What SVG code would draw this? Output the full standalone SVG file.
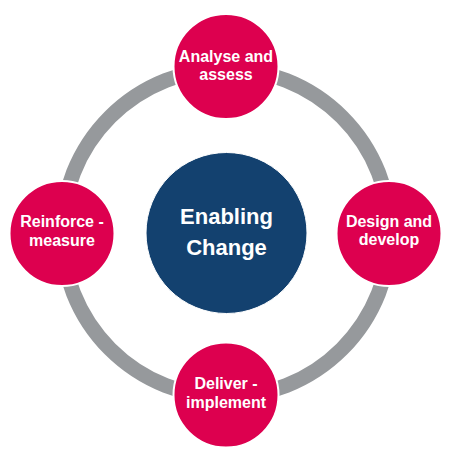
<svg xmlns="http://www.w3.org/2000/svg" width="469" height="460" viewBox="0 0 469 460">
<style>
.ring{fill:none;stroke:#96999c;stroke-width:15}
.step{fill:#dd004f;stroke:#ffffff;stroke-width:2}
.hub{fill:#13416f;stroke:#ffffff;stroke-width:1}
.t{font-family:"Liberation Sans",Arial,sans-serif;font-weight:bold;fill:#ffffff;text-anchor:middle}
.s{font-size:16px}
.b{font-size:22px}
</style>
<rect width="469" height="460" fill="#ffffff"/>
<g id="connectors">
<circle class="ring" cx="226" cy="233" r="164"/>
</g>
<g id="hub">
<circle class="hub" cx="226.5" cy="233" r="80.5"/>
<text class="t b" x="226.5" y="224">Enabling</text>
<text class="t b" x="226.5" y="255">Change</text>
</g>
<g id="analyse">
<circle class="step" cx="226" cy="66.5" r="52.5"/>
<text class="t s" x="226" y="62">Analyse and</text>
<text class="t s" x="226" y="80">assess</text>
</g>
<g id="design">
<circle class="step" cx="389" cy="233.5" r="52.5"/>
<text class="t s" x="389" y="227">Design and</text>
<text class="t s" x="389" y="245">develop</text>
</g>
<g id="deliver">
<circle class="step" cx="226" cy="395" r="52.5"/>
<text class="t s" x="226" y="389">Deliver -</text>
<text class="t s" x="226" y="408">implement</text>
</g>
<g id="reinforce">
<circle class="step" cx="62" cy="233.5" r="52.5"/>
<text class="t s" x="62" y="227">Reinforce -</text>
<text class="t s" x="62" y="246">measure</text>
</g>
</svg>
